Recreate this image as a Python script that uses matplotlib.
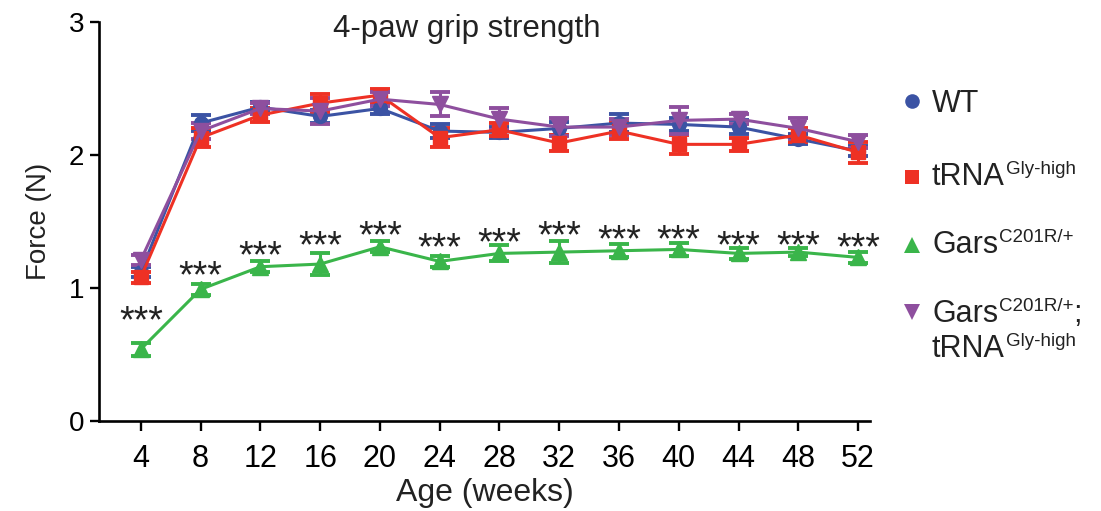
import matplotlib
matplotlib.use("Agg")
import matplotlib.pyplot as plt
from matplotlib.lines import Line2D

# ---------------- data ----------------
weeks = [4, 8, 12, 16, 20, 24, 28, 32, 36, 40, 44, 48, 52]
x_ticklabels = [str(w) for w in weeks]
y_ticks = [0, 1, 2, 3]

wt_mean = [1.12, 2.24, 2.36, 2.29, 2.35, 2.18, 2.17, 2.20, 2.24, 2.23, 2.21, 2.12, 2.03]
wt_sem = [0.04, 0.06, 0.04, 0.05, 0.04, 0.05, 0.04, 0.05, 0.07, 0.05, 0.05, 0.04, 0.04]

trna_mean = [1.08, 2.13, 2.30, 2.39, 2.45, 2.13, 2.19, 2.09, 2.18, 2.08, 2.08, 2.15, 2.02]
trna_sem = [0.04, 0.07, 0.05, 0.07, 0.05, 0.07, 0.05, 0.06, 0.06, 0.07, 0.05, 0.05, 0.08]

gars_mean = [0.54, 0.99, 1.16, 1.18, 1.31, 1.20, 1.26, 1.27, 1.28, 1.29, 1.26, 1.27, 1.23]
gars_sem = [0.05, 0.04, 0.04, 0.08, 0.04, 0.04, 0.06, 0.08, 0.05, 0.05, 0.04, 0.03, 0.04]

gt_mean = [1.21, 2.18, 2.35, 2.33, 2.42, 2.38, 2.27, 2.21, 2.21, 2.26, 2.27, 2.20, 2.10]
gt_sem = [0.04, 0.06, 0.04, 0.10, 0.05, 0.09, 0.08, 0.07, 0.06, 0.10, 0.04, 0.08, 0.05]

# heights of significance marks (centre of the "***")
star_y = [0.82, 1.16, 1.31, 1.39, 1.46, 1.37, 1.41, 1.46, 1.43, 1.43, 1.39, 1.39, 1.37]
star_text = "***"

title = "4-paw grip strength"
x_label = "Age (weeks)"
y_label = "Force (N)"

legend_main = ["WT", "tRNA", "Gars", "Gars"]
legend_sup = ["", "Gly-high", "C201R/+", "C201R/+"]
legend_tail = ["", "", "", ";"]
legend_line2_main = "tRNA"
legend_line2_sup = "Gly-high"

# ---------------- style ----------------
BLUE = "#3b53a4"
RED = "#ee3124"
GREEN = "#3ab54a"
PURPLE = "#8e4f9e"

REG = ["Liberation Sans", "DejaVu Sans"]
plt.rcParams["font.family"] = REG

W, H = 1101, 511
fig = plt.figure(figsize=(W / 100, H / 100), dpi=100)
ax = fig.add_axes([99 / W, 1 - 421 / H, (870 - 99) / W, (421 - 22) / H])

series = [
    (wt_mean, wt_sem, BLUE, "o", 10),
    (trna_mean, trna_sem, RED, "s", 9.5),
    (gars_mean, gars_sem, GREEN, "^", 11),
    (gt_mean, gt_sem, PURPLE, "v", 11),
]
for mean, sem, col, mk, ms in series:
    ax.errorbar(weeks, mean, yerr=sem, color=col, ecolor=col, marker=mk,
                markersize=ms, markeredgecolor=col, markerfacecolor=col,
                linewidth=2.2, elinewidth=2.2, capsize=7, capthick=2.8,
                clip_on=False)

for xw, ys in zip(weeks, star_y):
    ax.annotate(star_text, xy=(xw, ys), xytext=(0, -15),
                textcoords="offset points", ha="center", va="baseline",
                fontsize=27, color="#222222")

ax.set_xlim(1.2, 52.8)
ax.set_ylim(0, 3)
ax.set_xticks(weeks)
ax.set_xticklabels(x_ticklabels, fontsize=22)
ax.set_yticks(y_ticks)
ax.set_yticklabels([str(v) for v in y_ticks], fontsize=20)

for s in ["top", "right"]:
    ax.spines[s].set_visible(False)
for s in ["left", "bottom"]:
    ax.spines[s].set_linewidth(1.9)
ax.tick_params(axis="x", length=7.5, width=1.7, pad=9, colors="black")
ax.tick_params(axis="y", length=6.5, width=1.7, pad=4, colors="black")

ax.set_xlabel(x_label, fontsize=23, labelpad=3, color="#222222")
ax.set_ylabel(y_label, fontsize=20, labelpad=12, color="#222222")

fig.text(467 / W, 1 - 37 / H, title, ha="center", va="baseline",
         fontsize=22.5, color="#222222")

# ---------------- legend (drawn by hand) ----------------
renderer = fig.canvas.get_renderer()
marker_x = 912 / W
text_x = 932 / W
leg_baselines = [112, 185, 253, 322]
leg_marker_y = [101, 177, 245, 312]
leg_markers = [("o", BLUE, 10.5), ("s", RED, 10.5), ("^", GREEN, 12), ("v", PURPLE, 12)]
MAIN_FS = 22
SUP_FS = 13.5
SUP_RAISE = 11  # pixels


def draw_label(x_fig, base_px, main, sup, tail):
    t = fig.text(x_fig, 1 - base_px / H, main, fontsize=MAIN_FS, va="baseline",
                 ha="left", color="#222222")
    bb = t.get_window_extent(renderer)
    x_end = bb.x1
    if sup:
        ts = fig.text(x_end / W + 1 / W, 1 - (base_px - SUP_RAISE) / H, sup,
                      fontsize=SUP_FS, va="baseline", ha="left", color="#222222")
        x_end = ts.get_window_extent(renderer).x1
    if tail:
        fig.text(x_end / W, 1 - base_px / H, tail, fontsize=MAIN_FS,
                 va="baseline", ha="left", color="#222222")


for i in range(4):
    mk, col, ms = leg_markers[i]
    fig.add_artist(Line2D([marker_x], [1 - leg_marker_y[i] / H], marker=mk,
                          color=col, markersize=ms, markeredgewidth=0,
                          linestyle="none", transform=fig.transFigure))
    draw_label(text_x, leg_baselines[i], legend_main[i], legend_sup[i], legend_tail[i])
draw_label(text_x, 357, legend_line2_main, legend_line2_sup, "")

fig.savefig("out.png", dpi=100)
